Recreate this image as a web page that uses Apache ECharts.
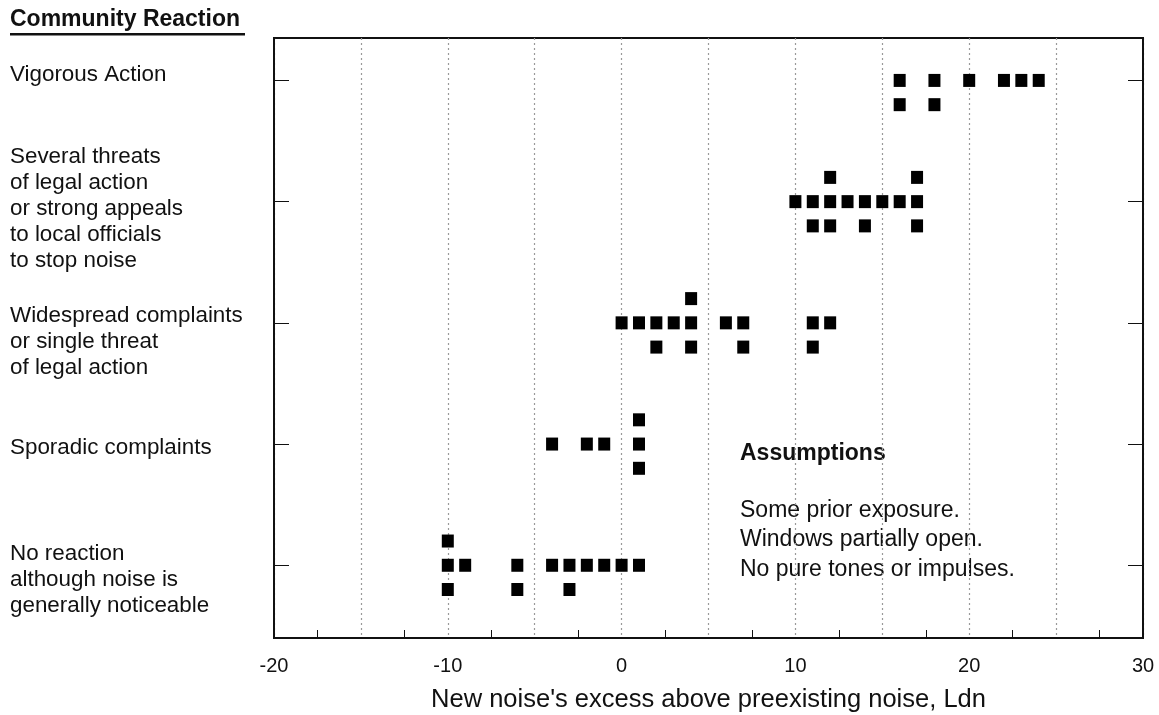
<!DOCTYPE html>
<html>
<head>
<meta charset="utf-8">
<script src="https://cdn.jsdelivr.net/npm/echarts@6/dist/echarts.min.js"></script>
<style>
  html, body { margin: 0; padding: 0; background: #fff; }
  #chart { width: 1159px; height: 715px; }
</style>
</head>
<body>
<div id="chart"></div>
<script>
// Reaction categories, bottom (0) to top (4)
const categories = [
  'No reaction\nalthough noise is\ngenerally noticeable',
  'Sporadic complaints',
  'Widespread complaints\nor single threat\nof legal action',
  'Several threats\nof legal action\nor strong appeals\nto local officials\nto stop noise',
  'Vigorous Action'
];
// Observed cases: Ldn excess for each community (duplicates = multiple cases)
const noReaction     = [-10, -10, -10, -9, -6, -6, -4, -3, -3, -2, -1, 0, 1];
const sporadic       = [-4, -2, -1, 1, 1, 1];
const widespread     = [0, 1, 2, 2, 3, 4, 4, 4, 6, 7, 7, 11, 11, 12];
const severalThreats = [10, 11, 11, 12, 12, 12, 13, 14, 14, 15, 16, 17, 17, 17];
const vigorous       = [16, 16, 18, 18, 20, 22, 23, 24];
const xTickLabels = [-20, -10, 0, 10, 20, 30];
const minorTicks = [-17.5, -12.5, -7.5, -2.5, 2.5, 7.5, 12.5, 17.5, 22.5, 27.5];

const rows = [noReaction, sporadic, widespread, severalThreats, vigorous];
const stackOffsets = [0, -0.2, 0.2]; // middle, below, above
const points = [];
rows.forEach((vals, r) => {
  const seen = {};
  vals.forEach(v => {
    const k = seen[v] || 0;
    seen[v] = k + 1;
    points.push([v, r + stackOffsets[k]]);
  });
});

const chart = echarts.init(document.getElementById('chart'), null, { renderer: 'canvas' });
const FONT = '"Liberation Sans", Arial, Helvetica, sans-serif';

const labelCenters = [580, 448, 342, 209, 75];
const graphics = [
  { type: 'text', x: 10, y: 20, style: { text: 'Community Reaction', font: 'bold 23px ' + FONT, fill: '#111', verticalAlign: 'middle' } },
  { type: 'rect', shape: { x: 10, y: 33, width: 235, height: 2.5 }, style: { fill: '#111' } },
  { type: 'text', x: 740, y: 454, style: { text: 'Assumptions', font: 'bold 23px ' + FONT, fill: '#111', verticalAlign: 'middle' } },
  { type: 'text', x: 740, y: 540, style: { text: 'Some prior exposure.\nWindows partially open.\nNo pure tones or impulses.', font: '23px ' + FONT, lineHeight: 29.5, fill: '#111', verticalAlign: 'middle' } }
];
categories.forEach((c, i) => {
  graphics.push({ type: 'text', x: 10, y: labelCenters[i], style: { text: c, font: '22.4px ' + FONT, lineHeight: 26, fill: '#111', verticalAlign: 'middle' } });
});

chart.setOption({
  animation: false,
  backgroundColor: '#fff',
  grid: { left: 274, top: 38, width: 869, height: 600, outerBoundsMode: 'none', containLabel: false, show: true, borderColor: '#111', borderWidth: 2, backgroundColor: 'transparent' },
  xAxis: [
    {
      type: 'value', min: -20, max: 30, interval: 10, position: 'bottom',
      name: "New noise's excess above preexisting noise, Ldn",
      nameLocation: 'middle', nameGap: 49,
      nameTextStyle: { fontSize: 25.5, fontFamily: FONT, color: '#111' },
      axisLine: { show: true, onZero: false, lineStyle: { color: '#111', width: 2 } },
      axisTick: { show: true, inside: true, length: 8, customValues: minorTicks, lineStyle: { color: '#111', width: 1 } },
      axisLabel: { show: true, customValues: xTickLabels, margin: 18, fontSize: 20, fontFamily: FONT, color: '#111' },
      splitLine: { show: false }
    },
    {
      type: 'value', min: -20, max: 30, interval: 5, position: 'bottom',
      axisLine: { show: false }, axisTick: { show: false }, axisLabel: { show: false },
      splitLine: { show: true, lineStyle: { color: '#999', type: [2, 3], width: 1.2 } }
    }
  ],
  yAxis: [
    {
      type: 'value', min: -0.6, max: 4.35, position: 'left',
      axisLine: { show: true, onZero: false, lineStyle: { color: '#111', width: 2 } },
      axisTick: { show: true, inside: true, length: 15, customValues: [0, 1, 2, 3, 4], lineStyle: { color: '#111', width: 1 } },
      axisLabel: { show: false }, splitLine: { show: false }
    },
    {
      type: 'value', min: -0.6, max: 4.35, position: 'right',
      axisLine: { show: true, onZero: false, lineStyle: { color: '#111', width: 2 } },
      axisTick: { show: true, inside: true, length: 15, customValues: [0, 1, 2, 3, 4], lineStyle: { color: '#111', width: 1 } },
      axisLabel: { show: false }, splitLine: { show: false }
    }
  ],
  graphic: graphics,
  series: [{
    type: 'scatter',
    xAxisIndex: 0, yAxisIndex: 0,
    data: points,
    symbol: 'rect',
    symbolSize: [12, 13],
    itemStyle: { color: '#000', opacity: 1 },
    silent: true
  }]
});
</script>
</body>
</html>
